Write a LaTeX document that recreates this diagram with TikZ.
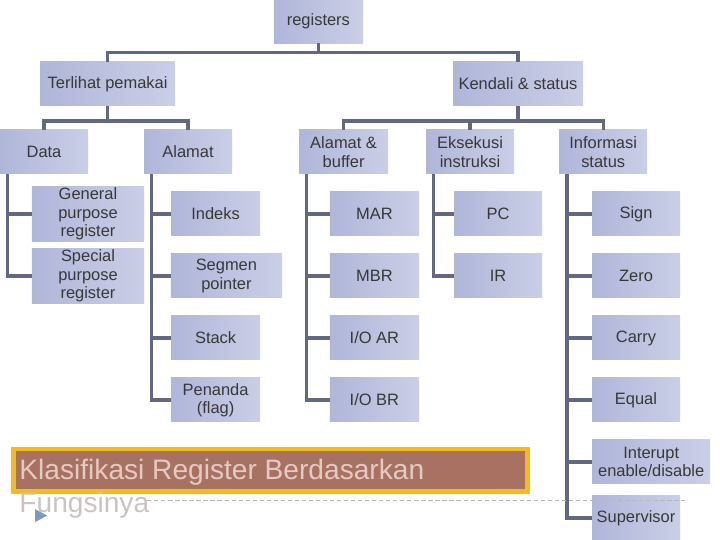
\documentclass[tikz,border=0pt]{standalone}
\usepackage{fontspec}
\setmainfont{Liberation Sans}
\usepackage{xcolor}
\usepackage{tikz}
\definecolor{RegBoxA}{HTML}{B0B6D9}
\definecolor{RegBoxB}{HTML}{CACEE6}
\definecolor{RegLine}{HTML}{626882}
\definecolor{RegBrown}{HTML}{A87262}
\definecolor{RegGold}{HTML}{F2BC1C}
\definecolor{RegTitle}{HTML}{E4CAC2}
\definecolor{RegFaded}{HTML}{CBC3C2}
\definecolor{RegDash}{HTML}{B8B8B8}
\definecolor{RegArrow}{HTML}{7A9CC4}
\tikzset{
  regbox/.style={shade,left color=RegBoxA,right color=RegBoxB,minimum width=2.2cm,minimum height=1.1cm,
    inner sep=1pt,align=center,text=black!78,font=\fontsize{11.7}{13}\selectfont},
  link/.style={draw=RegLine,line width=2.3pt},
}

\begin{document}
\begin{tikzpicture}[x=1cm,y=1cm]
\path[use as bounding box] (0,0) rectangle (18.00,13.50);
% top levels
\node[regbox,minimum width=2.23cm,minimum height=1.08cm] (reg) at (7.96,12.96) {registers};
\node[regbox,minimum width=3.38cm] (vis) at (2.69,11.40) {Terlihat pemakai};
\node[regbox,minimum width=3.25cm] (ctl) at (12.95,11.40) {Kendali \& status};
\node[regbox] (data) at (1.10,9.70) {Data};
\node[regbox] (addr) at (4.70,9.70) {Alamat};
\node[regbox,minimum width=2.23cm] (abuf) at (8.59,9.70) {Alamat \&\\buffer};
\node[regbox] (exec) at (11.75,9.70) {Eksekusi\\instruksi};
\node[regbox] (info) at (15.08,9.70) {Informasi\\status};
% leaves
\node[regbox,minimum width=2.80cm] (gpr) at (2.20,8.15) {General\\purpose\\register};
\node[regbox,minimum width=2.80cm] (spr) at (2.20,6.60) {Special\\purpose\\register};
\node[regbox,minimum width=2.23cm] (idx) at (5.39,8.15) {Indeks};
\node[regbox,minimum width=2.78cm] (seg) at (5.66,6.60) {Segmen\\pointer};
\node[regbox,minimum width=2.23cm] (stk) at (5.39,5.05) {Stack};
\node[regbox,minimum width=2.23cm] (flg) at (5.39,3.50) {Penanda\\(flag)};
\node[regbox,minimum width=2.23cm] (mar) at (9.36,8.15) {MAR};
\node[regbox,minimum width=2.23cm] (mbr) at (9.36,6.60) {MBR};
\node[regbox,minimum width=2.23cm] (ioar) at (9.36,5.05) {I/O AR};
\node[regbox,minimum width=2.23cm] (iobr) at (9.36,3.50) {I/O BR};
\node[regbox] (pc) at (12.45,8.15) {PC};
\node[regbox] (ir) at (12.45,6.60) {IR};
\node[regbox] (sign) at (15.90,8.15) {Sign};
\node[regbox] (zero) at (15.90,6.60) {Zero};
\node[regbox] (carry) at (15.90,5.05) {Carry};
\node[regbox] (equal) at (15.90,3.50) {Equal};
\node[regbox,minimum width=2.95cm] (intr) at (16.28,1.95) {Interupt\\enable/disable};
\node[regbox] (sup) at (15.90,0.55) {Supervisor};
% tree links
\draw[link] (reg.south) -- ++(0,-0.22) -| (vis.north);
\draw[link] (reg.south) -- ++(0,-0.22) -| (ctl.north);
\draw[link] (vis.south) -- ++(0,-0.37) -| (data.north);
\draw[link] (vis.south) -- ++(0,-0.37) -| (addr.north);
\draw[link] (ctl.south) -- ++(0,-0.37) -| (abuf.north);
\draw[link] (ctl.south) -- ++(0,-0.37) -| (exec.north);
\draw[link] (ctl.south) -- ++(0,-0.37) -| (info.north);
\foreach \p/\c in {data/gpr,data/spr,addr/idx,addr/seg,addr/stk,addr/flg,abuf/mar,abuf/mbr,abuf/ioar,abuf/iobr,
  exec/pc,exec/ir,info/sign,info/zero,info/carry,info/equal,info/intr,info/sup}
  \draw[link] ([xshift=0.2cm]\p.south west) |- (\c.west);
% title banner
\draw[RegDash,line width=0.6pt,dash pattern=on 3pt off 2pt] (3.68,1.00) -- (17.13,1.00);
\draw[RegGold,line width=3pt,fill=RegBrown] (0.34,1.21) rectangle (13.19,2.28);
\node[anchor=north west,inner sep=0pt,align=left,text=RegTitle,font=\fontsize{20}{23.5}\selectfont] (title) at (0.48,2.04)
  {Klasifikasi Register Berdasarkan\\\textcolor{RegFaded}{Fungsinya}};
\fill[RegArrow] (0.88,0.77) -- (0.88,0.45) -- (1.18,0.61) -- cycle;
\end{tikzpicture}
\end{document}
